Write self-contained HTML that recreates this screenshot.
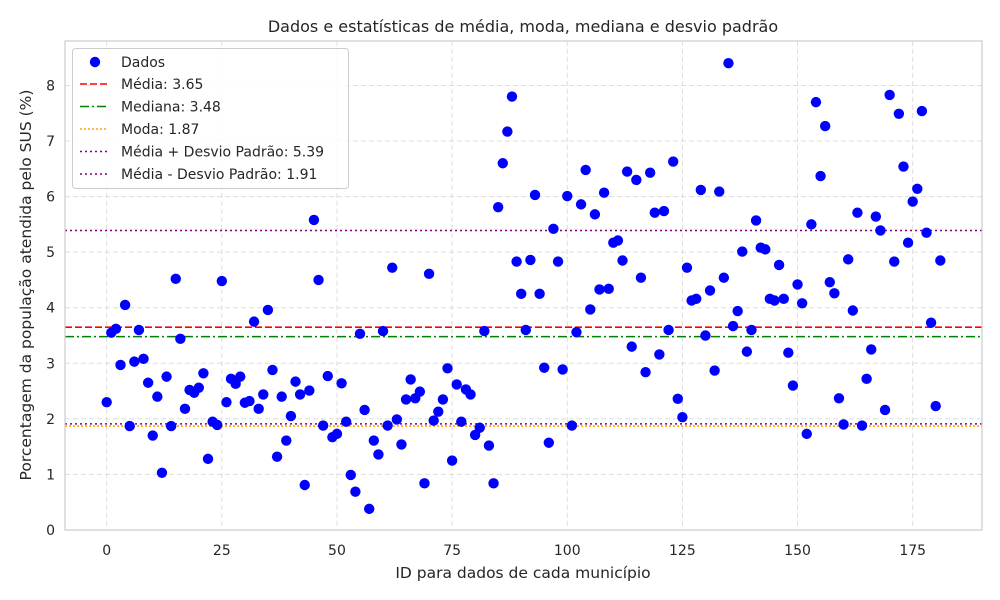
<!DOCTYPE html>
<html><head><meta charset="utf-8">
<style>
html,body{margin:0;padding:0;background:#fff;}
svg{display:block;font-family:"DejaVu Sans","Liberation Sans",sans-serif;}
</style></head>
<body>
<svg id="chart" width="1000" height="600" viewBox="0 0 1000 600">
  <rect width="1000" height="600" fill="#fff"/>
  <text x="523" y="32" text-anchor="middle" font-size="16" fill="#262626">Dados e estatísticas de média, moda, mediana e desvio padrão</text>
  <g id="grid"></g>
  <g id="lines"></g>
  <g id="points"></g>
  <g id="axes"></g>
  <text x="523" y="578" text-anchor="middle" font-size="15.5" fill="#262626">ID para dados de cada município</text>
  <text transform="translate(31,285) rotate(-90)" text-anchor="middle" font-size="15.5" fill="#262626">Porcentagem da população atendida pelo SUS (%)</text>
  <g id="legend"></g>
</svg>
<script>
const values = [2.3,3.55,3.62,2.97,4.05,1.87,3.03,3.6,3.08,2.65,1.7,2.4,1.03,2.76,1.87,4.52,3.44,2.18,2.52,2.47,2.56,2.82,1.28,1.95,1.89,4.48,2.3,2.72,2.63,2.76,2.29,2.32,3.75,2.18,2.44,3.96,2.88,1.32,2.4,1.61,2.05,2.67,2.44,0.81,2.51,5.58,4.5,1.88,2.77,1.67,1.73,2.64,1.95,0.99,0.69,3.53,2.16,0.38,1.61,1.36,3.58,1.88,4.72,1.99,1.54,2.35,2.71,2.37,2.49,0.84,4.61,1.97,2.13,2.35,2.91,1.25,2.62,1.95,2.53,2.44,1.71,1.84,3.58,1.52,0.84,5.81,6.6,7.17,7.8,4.83,4.25,3.6,4.86,6.03,4.25,2.92,1.57,5.42,4.83,2.89,6.01,1.88,3.56,5.86,6.48,3.97,5.68,4.33,6.07,4.34,5.17,5.21,4.85,6.45,3.3,6.3,4.54,2.84,6.43,5.71,3.16,5.74,3.6,6.63,2.36,2.03,4.72,4.13,4.16,6.12,3.5,4.31,2.87,6.09,4.54,8.4,3.67,3.94,5.01,3.21,3.6,5.57,5.08,5.05,4.16,4.13,4.77,4.16,3.19,2.6,4.42,4.08,1.73,5.5,7.7,6.37,7.27,4.46,4.26,2.37,1.9,4.87,3.95,5.71,1.88,2.72,3.25,5.64,5.39,2.16,7.83,4.83,7.49,6.54,5.17,5.91,6.14,7.54,5.35,3.73,2.23,4.85];
const xTicks = [0,25,50,75,100,125,150,175];
const yTicks = [0,1,2,3,4,5,6,7,8];
const statNames = ["Média","Mediana","Moda","Média + Desvio Padrão","Média - Desvio Padrão"];
const statValues = [3.65,3.48,1.87,5.39,1.91];

const L=65,R=982,T=41,B=530;
const xMin=-9.05,xMax=190.05,yMin=0,yMax=8.8;
const sx=v=>L+(v-xMin)/(xMax-xMin)*(R-L);
const sy=v=>B-(v-yMin)/(yMax-yMin)*(B-T);
const NS="http://www.w3.org/2000/svg";
function mk(tag,attrs,parent){const e=document.createElementNS(NS,tag);for(const k in attrs)e.setAttribute(k,attrs[k]);parent.appendChild(e);return e;}

const grid=document.getElementById('grid');
xTicks.forEach(t=>{
  const g=mk('line',{x1:sx(t),x2:sx(t),y1:T,y2:B,stroke:'#dddddd','stroke-width':1,'stroke-dasharray':'5,3'},grid);
  
  
});
yTicks.forEach(t=>{
  const g=mk('line',{x1:L,x2:R,y1:sy(t),y2:sy(t),stroke:'#dddddd','stroke-width':1,'stroke-dasharray':'5,3'},grid);
  
  
});

const styles=[
  {c:'#ff0000',d:'7,3'},
  {c:'#008000',d:'9,3,2,3'},
  {c:'#ffa500',d:'2,2'},
  {c:'#800080',d:'2,3'},
  {c:'#800080',d:'2,3'}
];
const lines=document.getElementById('lines');
statValues.forEach((v,i)=>{
  const l=mk('line',{x1:L,x2:R,y1:sy(v),y2:sy(v),stroke:styles[i].c,'stroke-width':1.6,'stroke-dasharray':styles[i].d},lines);
  
  
});

const pts=document.getElementById('points');
values.forEach((v,i)=>{
  const c=mk('circle',{cx:sx(i),cy:sy(v),r:5.2,fill:'#0000ff'},pts);
  
  
});

const axes=document.getElementById('axes');
const fr=mk('rect',{x:L,y:T,width:R-L,height:B-T,fill:'none',stroke:'#cccccc','stroke-width':1.2},axes);


xTicks.forEach(t=>{
  const tx=mk('text',{x:sx(t),y:B+25,'text-anchor':'middle','font-size':14,fill:'#262626'},axes);
  tx.textContent=t;
  
  
});
yTicks.forEach(t=>{
  const tx=mk('text',{x:L-10,y:sy(t)+5,'text-anchor':'end','font-size':14,fill:'#262626'},axes);
  tx.textContent=t;
  
  
});

const lg=document.getElementById('legend');
const box=mk('rect',{x:72.5,y:48.5,width:276,height:140,rx:3,fill:'#ffffff','fill-opacity':0.85,stroke:'#cccccc'},lg);


const dot=mk('circle',{cx:95,cy:62,r:5.2,fill:'#0000ff'},lg);


const t0=mk('text',{x:121,y:67,'font-size':14,fill:'#262626'},lg);
t0.textContent='Dados';


statNames.forEach((n,i)=>{
  const y=84+i*22.5;
  const l=mk('line',{x1:80,x2:108,y1:y,y2:y,stroke:styles[i].c,'stroke-width':1.6,'stroke-dasharray':styles[i].d},lg);
  
  
  const t=mk('text',{x:121,y:y+5,'font-size':14,fill:'#262626'},lg);
  t.textContent=n+': '+statValues[i].toFixed(2);
  
  
});
</script>
</body></html>
